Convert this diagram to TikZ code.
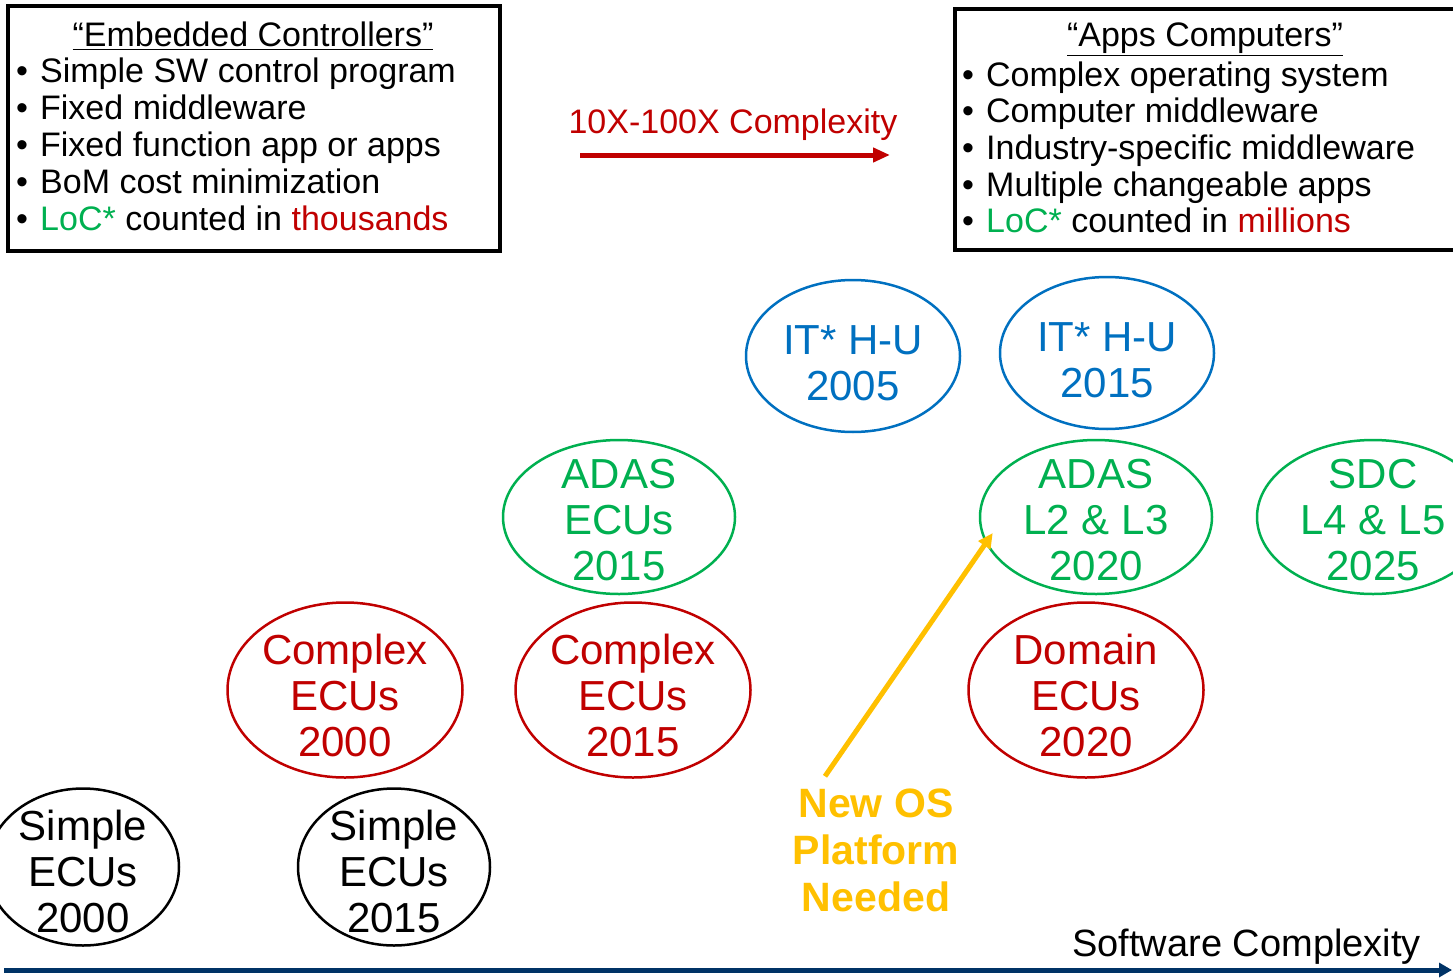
\documentclass[tikz,border=0pt]{standalone}
\usepackage{fontspec}
\setmainfont{Liberation Sans}
\usetikzlibrary{shapes.geometric,arrows.meta}
\definecolor{ecured}{RGB}{192,0,0}
\definecolor{adasgreen}{RGB}{0,176,80}
\definecolor{itblue}{RGB}{0,112,192}
\definecolor{osyellow}{RGB}{255,192,0}
\definecolor{axisnavy}{RGB}{0,51,102}
\newcommand{\boxfont}{\fontsize{34}{37}\selectfont}
\newcommand{\ellfont}{\fontsize{42}{46}\selectfont}
\newcommand{\bul}{\makebox[24pt][l]{\textbullet}}

\begin{document}
\begin{tikzpicture}[x=1pt,y=-1pt,
  ecu/.style={ellipse,draw,line width=2.5pt,inner xsep=-10pt,inner ysep=-14pt,align=center,font=\ellfont},
  itnode/.style={ecu,draw=itblue,text=itblue,text height=89pt,minimum width=214pt,minimum height=152pt},
  adasnode/.style={ecu,draw=adasgreen,text=adasgreen,text height=128pt,minimum width=232pt,minimum height=154pt},
  complexnode/.style={ecu,draw=ecured,text=ecured,text height=134pt,minimum width=235pt,minimum height=175pt},
  simplenode/.style={ecu,draw=black,text=black,text height=131pt,minimum width=192pt,minimum height=157pt},
  boxline/.style={anchor=base west,inner sep=0pt,font=\boxfont}]
\useasboundingbox (0,0) rectangle (1453,979);
\clip (0,0) rectangle (1453,979);

% boxes
\draw[line width=4.5pt] (8,6) rectangle (500,251);
\draw[line width=4.5pt] (955,9) rectangle (1475,250);

% left box text
\node[anchor=base,inner sep=0pt,font=\boxfont] (ltitle) at (253,47) {\underline{“Embedded Controllers”}};
\node[boxline] (l1) at (16,83) {\bul Simple SW control program};
\node[boxline] (l2) at (16,120) {\bul Fixed middleware};
\node[boxline] (l3) at (16,157) {\bul Fixed function app or apps};
\node[boxline] (l4) at (16,193) {\bul BoM cost minimization};
\node[boxline] (l5) at (16,230) {\bul\textcolor{adasgreen}{LoC*} counted in \textcolor{ecured}{thousands}};

% right box text
\node[anchor=base,inner sep=0pt,font=\boxfont] (rtitle) at (1205,47) {\underline{“Apps Computers”}};
\node[boxline] (r1) at (962,87) {\bul Complex operating system};
\node[boxline] (r2) at (962,123) {\bul Computer middleware};
\node[boxline] (r3) at (962,160) {\bul Industry-specific middleware};
\node[boxline] (r4) at (962,196) {\bul Multiple changeable apps};
\node[boxline] (r5) at (962,232) {\bul\textcolor{adasgreen}{LoC*} counted in \textcolor{ecured}{millions}};

% complexity arrow
\node[anchor=base,inner sep=0pt,font=\boxfont,text=ecured] (cxlabel) at (733,133) {10X-100X Complexity};
\coordinate (cxstart) at (580,155);
\coordinate (cxend) at (890,155);
\draw[-{Triangle[length=17pt,width=14pt]},ecured,line width=5pt] (cxstart) -- (cxend);

% ellipses
\node[itnode] (it05) at (853,356) {IT* H-U\\2005};
\node[itnode] (it15) at (1107,353) {IT* H-U\\2015};

\node[adasnode] (adas15) at (619,517) {ADAS\\ECUs\\2015};
\node[adasnode] (adas20) at (1096,517) {ADAS\\L2 \& L3\\2020};
\node[adasnode] (sdc25) at (1373,517) {SDC\\L4 \& L5\\2025};

\node[complexnode] (cx00) at (345,690) {Complex\\ECUs\\2000};
\node[complexnode] (cx15) at (633,690) {Complex\\ECUs\\2015};
\node[complexnode] (dom20) at (1086,690) {Domain\\ECUs\\2020};

\node[simplenode] (simple00) at (83,867) {Simple\\ECUs\\2000};
\node[simplenode] (simple15) at (394,867) {Simple\\ECUs\\2015};

% new os platform
\node[align=center,inner sep=0pt,text=osyellow,font=\fontsize{41}{47}\selectfont\bfseries] (newos) at (876,850) {New OS\\Platform\\Needed};
\draw[-{Triangle[length=15pt,width=14pt]},osyellow,line width=5pt]
  ([shift={(-51,-12)}]newos.north) -- ([shift={(14,16)}]adas20.west);

% axis
\coordinate (axstart) at (4,970);
\coordinate (axend) at (1452,970);
\draw[-{Triangle[length=13pt,width=14pt]},axisnavy,line width=5pt] (axstart) -- (axend);
\node[anchor=base east,inner sep=0pt,font=\fontsize{38}{42}\selectfont] (swlabel) at (1421,956) {Software Complexity};

\end{tikzpicture}
\end{document}
